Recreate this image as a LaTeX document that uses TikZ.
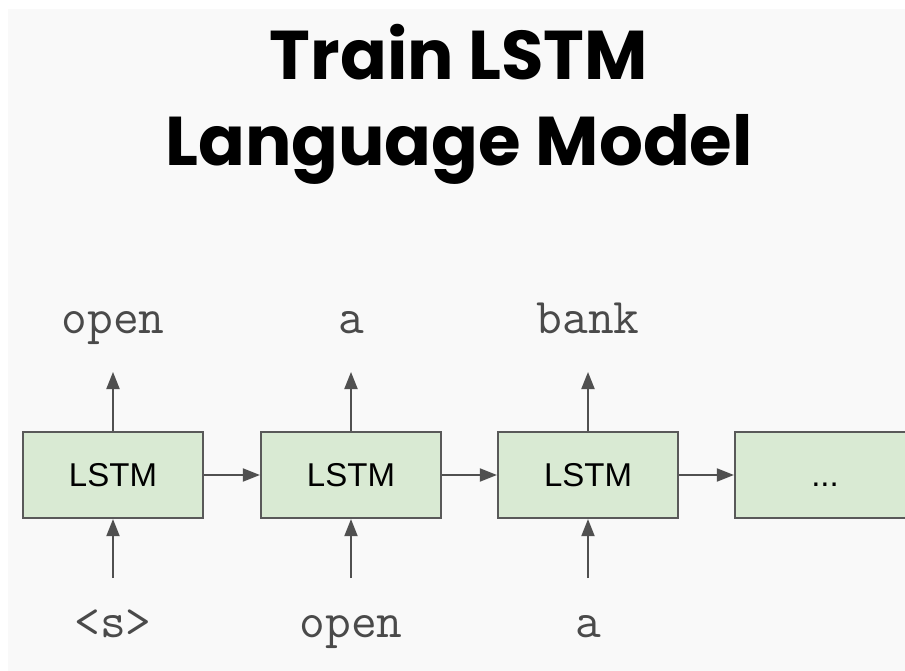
\documentclass[tikz,border=0pt]{standalone}
\usepackage{fontspec}
\setmainfont{Liberation Sans}
\newfontfamily\titlefont{Poppins}
\usetikzlibrary{arrows.meta}
\definecolor{bgray}{HTML}{F9F9F9}
\definecolor{boxgreen}{HTML}{D9EAD3}
\definecolor{edgegray}{HTML}{595959}
\definecolor{wordgray}{HTML}{4A4A4A}
\tikzset{
  lstmbox/.style={draw=edgegray, line width=2.2pt, fill=boxgreen, minimum width=180pt, minimum height=86pt, inner sep=0pt, font=\fontsize{33}{38}\selectfont, text=black},
  conn/.style={draw=edgegray!90!black, line width=2pt, -{Triangle[length=17pt,width=13pt]}},
  word/.style={font=\ttfamily\fontsize{50}{56}\selectfont, text=wordgray, anchor=base, inner sep=0pt},
  title/.style={font=\titlefont\bfseries\fontsize{69}{78}\selectfont, text=black, anchor=base, inner sep=0pt}
}
\begin{document}
\begin{tikzpicture}[x=1pt,y=-1pt]
\useasboundingbox (0,0) rectangle (905,671);
\fill[white] (0,0) rectangle (905,671);
\fill[bgray] (8,9) rectangle (905,671);
\clip (0,0) rectangle (905,671);

\node[title] (t1) at (459,80) {Train LSTM};
\node[title] (t2) at (459,166) {Language Model};

\node[lstmbox] (b1) at (113,475) {LSTM};
\node[lstmbox] (b2) at (351,475) {LSTM};
\node[lstmbox] (b3) at (588,475) {LSTM};
\node[lstmbox] (b4) at (825,475) {\vphantom{L}...};

\coordinate (u1) at (113,372);
\coordinate (u2) at (351,372);
\coordinate (u3) at (588,372);
\coordinate (d1) at (113,578);
\coordinate (d2) at (351,578);
\coordinate (d3) at (588,578);

\draw[conn] (b1.north) -- (u1);
\draw[conn] (b2.north) -- (u2);
\draw[conn] (b3.north) -- (u3);
\draw[conn] (d1) -- (b1.south);
\draw[conn] (d2) -- (b2.south);
\draw[conn] (d3) -- (b3.south);
\draw[conn] (b1.east) -- (b2.west);
\draw[conn] (b2.east) -- (b3.west);
\draw[conn] (b3.east) -- (b4.west);

\node[word] (o1) at (113,333) {open};
\node[word] (o2) at (351,333) {a};
\node[word] (o3) at (588,333) {bank};
\node[word] (i1) at (113,637) {<s>};
\node[word] (i2) at (351,637) {open};
\node[word] (i3) at (588,637) {a};
\end{tikzpicture}
\end{document}
